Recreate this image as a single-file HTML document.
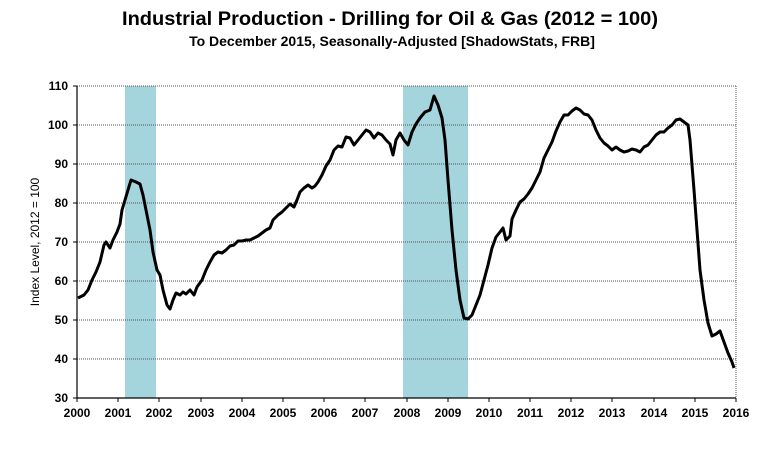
<!DOCTYPE html>
<html><head><meta charset="utf-8"><style>body{margin:0;background:#fff}svg{display:block}</style></head><body>
<svg width="781" height="463" xmlns="http://www.w3.org/2000/svg" font-family="Liberation Sans, sans-serif">
<rect width="781" height="463" fill="#fff"/>
<text x="390" y="25" text-anchor="middle" font-size="19.5" font-weight="bold" textLength="536" lengthAdjust="spacingAndGlyphs">Industrial Production - Drilling for Oil &amp; Gas (2012 = 100)</text>
<text x="392" y="46" text-anchor="middle" font-size="14" font-weight="bold">To December 2015, Seasonally-Adjusted [ShadowStats, FRB]</text>
<rect x="125" y="86" width="31" height="312" fill="#a4d4dc"/>
<rect x="403" y="86" width="65" height="312" fill="#a4d4dc"/>
<g stroke="#555" stroke-width="1" stroke-dasharray="1,1">
<line x1="77" y1="86" x2="736" y2="86"/><line x1="77" y1="125" x2="736" y2="125"/><line x1="77" y1="164" x2="736" y2="164"/><line x1="77" y1="203" x2="736" y2="203"/><line x1="77" y1="242" x2="736" y2="242"/><line x1="77" y1="281" x2="736" y2="281"/><line x1="77" y1="320" x2="736" y2="320"/><line x1="77" y1="359" x2="736" y2="359"/>
<line x1="736" y1="86" x2="736" y2="398"/>
</g>
<g stroke="#000" stroke-width="1.2">
<line x1="77" y1="86" x2="77" y2="398"/><line x1="77" y1="398" x2="736" y2="398"/>
</g>
<g stroke="#000" stroke-width="1">
<line x1="73" y1="86" x2="77" y2="86"/><line x1="73" y1="125" x2="77" y2="125"/><line x1="73" y1="164" x2="77" y2="164"/><line x1="73" y1="203" x2="77" y2="203"/><line x1="73" y1="242" x2="77" y2="242"/><line x1="73" y1="281" x2="77" y2="281"/><line x1="73" y1="320" x2="77" y2="320"/><line x1="73" y1="359" x2="77" y2="359"/><line x1="73" y1="398" x2="77" y2="398"/>
<line x1="77" y1="398" x2="77" y2="402"/><line x1="118" y1="398" x2="118" y2="402"/><line x1="159" y1="398" x2="159" y2="402"/><line x1="201" y1="398" x2="201" y2="402"/><line x1="242" y1="398" x2="242" y2="402"/><line x1="283" y1="398" x2="283" y2="402"/><line x1="324" y1="398" x2="324" y2="402"/><line x1="365" y1="398" x2="365" y2="402"/><line x1="407" y1="398" x2="407" y2="402"/><line x1="448" y1="398" x2="448" y2="402"/><line x1="489" y1="398" x2="489" y2="402"/><line x1="530" y1="398" x2="530" y2="402"/><line x1="571" y1="398" x2="571" y2="402"/><line x1="612" y1="398" x2="612" y2="402"/><line x1="654" y1="398" x2="654" y2="402"/><line x1="695" y1="398" x2="695" y2="402"/><line x1="736" y1="398" x2="736" y2="402"/>
</g>
<g font-size="12" font-weight="bold" text-anchor="end">
<text x="68" y="90">110</text><text x="68" y="129">100</text><text x="68" y="168">90</text><text x="68" y="207">80</text><text x="68" y="246">70</text><text x="68" y="285">60</text><text x="68" y="324">50</text><text x="68" y="363">40</text><text x="68" y="402">30</text>
</g>
<g font-size="12" font-weight="bold" text-anchor="middle">
<text x="77" y="417">2000</text><text x="118" y="417">2001</text><text x="159" y="417">2002</text><text x="201" y="417">2003</text><text x="242" y="417">2004</text><text x="283" y="417">2005</text><text x="324" y="417">2006</text><text x="365" y="417">2007</text><text x="407" y="417">2008</text><text x="448" y="417">2009</text><text x="489" y="417">2010</text><text x="530" y="417">2011</text><text x="571" y="417">2012</text><text x="612" y="417">2013</text><text x="654" y="417">2014</text><text x="695" y="417">2015</text><text x="736" y="417">2016</text>
</g>
<text transform="translate(39,242) rotate(-90)" text-anchor="middle" font-size="12">Index Level, 2012 = 100</text>
<polyline fill="none" stroke="#000" stroke-width="3" stroke-linejoin="round" points="78,298 84,295 88,290 92,280 96,272 100,262 104,245 106,242 110,248 113,240 117,232 120,224 122,210 125,200 128,190 131,180 136,182 140,184 143,195 146,210 150,230 153,252 157,270 160,275 163,290 167,305 170,309 173,300 176,293 180,295 183,292 186,294 190,290 194,295 197,287 202,280 206,270 210,262 214,255 218,252 222,253 226,250 230,246 234,245 238,241 242,241 246,240 250,240 254,238 258,236 262,233 266,230 270,228 273,220 278,215 282,212 286,208 290,204 294,207 297,200 300,192 304,188 308,185 312,188 315,186 318,182 322,175 326,166 330,160 334,150 338,146 342,147 346,137 350,138 354,145 358,140 362,135 366,130 370,132 374,138 378,133 382,135 386,140 390,144 393,155 396,140 400,133 404,140 408,145 412,132 416,124 420,118 425,112 430,110 434,96 438,105 442,118 445,140 448,180 452,230 456,270 460,300 464,318 468,319 472,315 476,305 480,295 484,280 488,265 492,248 496,237 500,232 503,228 506,240 510,236 512,219 516,210 520,202 524,199 528,194 532,188 536,180 540,172 544,158 548,150 552,142 556,131 560,122 564,115 568,115 572,111 576,108 580,110 584,114 588,115 592,120 596,130 600,138 604,143 608,146 612,150 616,147 620,150 624,152 628,151 632,149 636,150 640,152 644,147 648,145 652,140 656,135 660,132 664,132 668,128 672,125 676,120 680,119 684,122 688,125 690,140 692,165 694,190 697,230 700,270 704,300 708,323 712,336 716,334 720,331 724,342 728,353 732,362 734,368"/>
</svg>
</body></html>
